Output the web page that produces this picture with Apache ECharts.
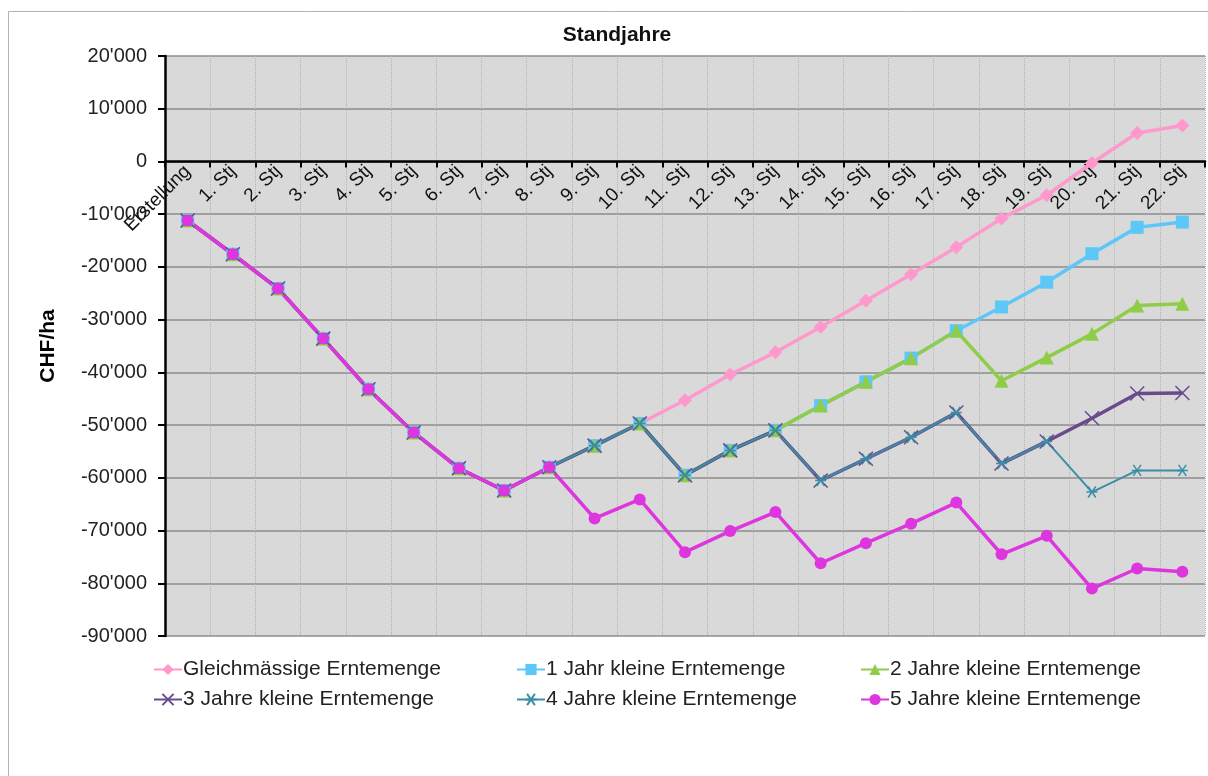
<!DOCTYPE html>
<html>
<head>
<meta charset="utf-8">
<script src="https://cdn.jsdelivr.net/npm/echarts@6/dist/echarts.min.js"></script>
<style>
  html, body { margin: 0; padding: 0; background: #fff; }
  #chart { width: 1208px; height: 776px; }
</style>
</head>
<body>
<div id="chart"></div>
<script>
// categories (Standjahre)
const categories = ['Erstellung', '1. Stj', '2. Stj', '3. Stj', '4. Stj', '5. Stj', '6. Stj', '7. Stj',
    '8. Stj', '9. Stj', '10. Stj', '11. Stj', '12. Stj', '13. Stj', '14. Stj', '15. Stj', '16. Stj',
    '17. Stj', '18. Stj', '19. Stj', '20. Stj', '21. Stj', '22. Stj'];

// CHF/ha
const gleich = [-11200, -17600, -24100, -33600, -43200, -51400, -58200, -62400, -58000, -53900, -49700,
    -45300, -40400, -36200, -31400, -26400, -21400, -16250, -10800, -6400, -300, 5400, 6800];
const jahr1 = [-11200, -17600, -24100, -33600, -43200, -51400, -58200, -62400, -58000, -53900, -49700,
    -59500, -54800, -51000, -46300, -41800, -37300, -32100, -27600, -22900, -17500, -12500, -11500];
const jahre2 = [-11200, -17600, -24100, -33600, -43200, -51400, -58200, -62400, -58000, -53900, -49700,
    -59500, -54800, -51000, -46300, -41800, -37300, -32100, -41600, -37200, -32700, -27300, -27000];
const jahre3 = [-11200, -17600, -24100, -33600, -43200, -51400, -58200, -62400, -58000, -53900, -49700,
    -59500, -54800, -51000, -60500, -56400, -52300, -47600, -57300, -53100, -48700, -44000, -43900];
const jahre4 = [-11200, -17600, -24100, -33600, -43200, -51400, -58200, -62400, -58000, -53900, -49700,
    -59500, -54800, -51000, -60500, -56400, -52300, -47600, -57300, -53100, -62700, -58600, -58600];
const jahre5 = [-11200, -17600, -24100, -33600, -43200, -51400, -58200, -62400, -58000, -67700, -64100,
    -74100, -70100, -66500, -76200, -72400, -68700, -64700, -74500, -71000, -81000, -77200, -77800];

const seriesNames = ['Gleichmässige Erntemenge', '1 Jahr kleine Erntemenge', '2 Jahre kleine Erntemenge',
    '3 Jahre kleine Erntemenge', '4 Jahre kleine Erntemenge', '5 Jahre kleine Erntemenge'];
const seriesData = [gleich, jahr1, jahre2, jahre3, jahre4, jahre5];
const colors = ['#ff99cc', '#5cc8f7', '#8fcd48', '#6a4a8c', '#3a8fa6', '#de36de'];

const crossPath = 'path://M0,0L10,10M10,0L0,10';
const starPath = 'path://M0,5L10,5M1.5,1.5L8.5,8.5M8.5,1.5L1.5,8.5';
const symbols = ['diamond', 'rect', 'triangle', crossPath, starPath, 'circle'];
const symbolSizes = [14, 13, 14, 14, 11, 12];
const lineWidths = [3.5, 3.5, 3.5, 3.5, 2, 3.5];

function fmt(v) {
    const s = Math.abs(v).toString().replace(/\B(?=(\d{3})+(?!\d))/g, "'");
    return (v < 0 ? '-' : '') + s;
}

const font = 'Liberation Sans, Arial, sans-serif';
const legendPos = [[153, 659], [516, 659], [860, 659], [153, 689], [516, 689], [860, 689]];

// grid: plot 56..636 px, zero line sits 2/11 of the way down
const gridTop = 56, gridH = 580;
const zeroOffset = -(gridH - gridH * 2 / 11);

const chart = echarts.init(document.getElementById('chart'), null, {renderer: 'canvas'});
chart.setOption({
    animation: false,
    title: {
        text: 'Standjahre',
        left: 612,
        textAlign: 'center',
        top: 20,
        textStyle: {fontFamily: font, fontSize: 21, fontWeight: 'bold', color: '#111'}
    },
    graphic: [{
        type: 'rect',
        z: -1,
        shape: {x: 8.5, y: 11.5, width: 1230, height: 800},
        style: {fill: 'none', stroke: '#b4b4b4', lineWidth: 1}
    }],
    legend: seriesNames.map((n, i) => ({
        data: [n],
        left: legendPos[i][0],
        top: legendPos[i][1],
        padding: 0,
        itemWidth: 28,
        itemHeight: 14,
        itemGap: 0,
        textStyle: {fontFamily: font, fontSize: 21, color: '#222', padding: [0, 0, 0, -4]}
    })),
    grid: {left: 165, right: 3, top: gridTop, height: gridH, backgroundColor: '#d9d9d9', show: true,
        borderColor: '#999', borderWidth: 0},
    xAxis: {
        type: 'category',
        data: categories,
        boundaryGap: true,
        position: 'bottom',
        offset: zeroOffset,
        axisLine: {onZero: false, lineStyle: {color: '#000', width: 2.5}},
        axisTick: {show: true, length: 6, lineStyle: {color: '#000', width: 2}},
        axisLabel: {rotate: 45, interval: 0, fontFamily: font, fontSize: 19, color: '#111', margin: 7},
        splitLine: {show: true, interval: 0, lineStyle: {color: '#b3b3b3', width: 1, type: 'dotted'}}
    },
    yAxis: {
        type: 'value',
        min: -90000,
        max: 20000,
        interval: 10000,
        name: 'CHF/ha',
        nameLocation: 'middle',
        nameGap: 106,
        nameRotate: 90,
        nameTextStyle: {fontFamily: font, fontSize: 21, fontWeight: 'bold', color: '#000'},
        axisLine: {show: true, lineStyle: {color: '#000', width: 2.5}},
        axisTick: {show: true, length: 7, lineStyle: {color: '#000', width: 2}},
        axisLabel: {formatter: fmt, fontFamily: font, fontSize: 20, color: '#222', margin: 18},
        splitLine: {lineStyle: {color: '#8c8c8c', width: 1.5}}
    },
    series: seriesNames.map((n, i) => ({
        name: n,
        type: 'line',
        data: seriesData[i],
        color: colors[i],
        symbol: symbols[i],
        symbolSize: symbolSizes[i],
        showAllSymbol: true,
        lineStyle: {width: lineWidths[i], color: colors[i]},
        itemStyle: {color: colors[i], borderColor: colors[i], borderWidth: (i === 3 || i === 4) ? 1.5 : 0}
    }))
});
</script>
</body>
</html>
